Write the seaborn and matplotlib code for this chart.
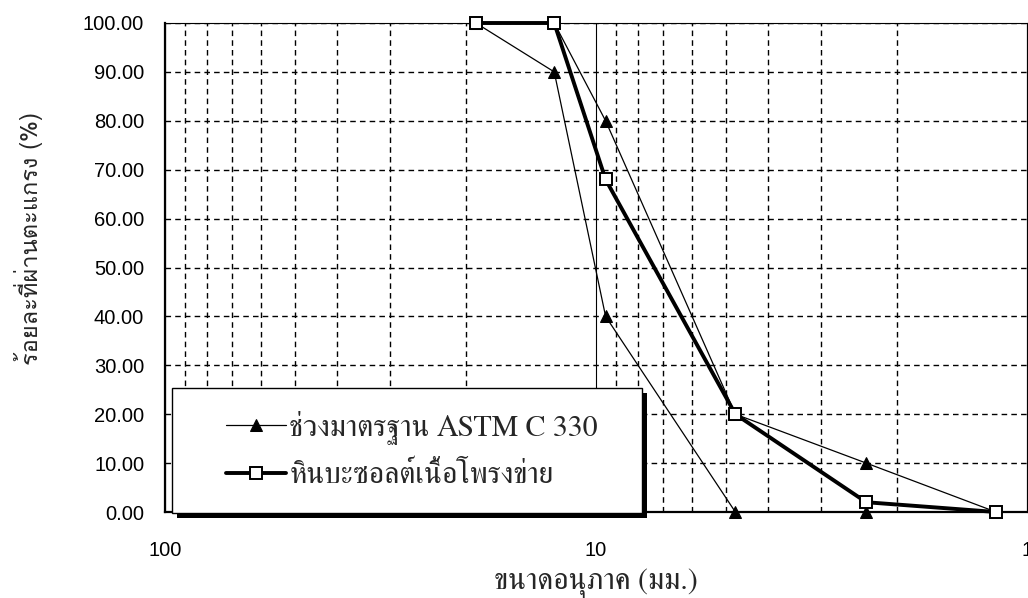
import numpy as np
import pandas as pd
import matplotlib
matplotlib.use("Agg")
import matplotlib.pyplot as plt
import matplotlib.patches as mpatches
import matplotlib.patheffects as pe
from matplotlib import font_manager
from matplotlib.ticker import FixedLocator, NullFormatter, FixedFormatter
import seaborn as sns

# ---------------- data ----------------
astm_size = [19, 12.5, 9.5, 4.75, 2.36, 1.18, 2.36, 4.75, 9.5, 12.5]
astm_pass = [100, 90, 40, 0, 0, 0, 10, 20, 80, 100]
basalt_size = [19, 12.5, 9.5, 4.75, 2.36, 1.18]
basalt_pass = [100, 100, 68, 20, 2, 0]
y_ticks = [0, 10, 20, 30, 40, 50, 60, 70, 80, 90, 100]
x_major = [100, 10, 1]
x_labels = ["100", "10", "1"]
label_astm = "ช่วงมาตรฐาน ASTM C 330"
label_basalt = "หินบะซอลต์เนื้อโพรงข่าย"
xlabel = "ขนาดอนุภาค (มม.)"
ylabel = "ร้อยละที่ผ่านตะแกรง (%)"

# ---------------- style ----------------
sns.set_style("white")


def find_thai_fonts():
    names = []
    try:
        from fontTools.ttLib import TTFont
    except Exception:
        return names
    for f in font_manager.fontManager.ttflist:
        try:
            tt = TTFont(f.fname, fontNumber=0, lazy=True)
            cmap = tt.getBestCmap()
            if cmap and 0x0E01 in cmap and 0x0E2A in cmap:
                if f.name not in names:
                    names.append(f.name)
        except Exception:
            pass
    return names


thai = find_thai_fonts()
serif_pref = [n for n in thai if any(k in n for k in ("Serif", "Norasi", "Kinnari", "Angsana", "Tlwg Typo", "Laksaman"))]
sans_pref = [n for n in thai if n not in serif_pref]
thai_serif = (serif_pref + thai)[:1]
thai_sans = (sans_pref + thai)[:1]
plt.rcParams["font.family"] = ["Liberation Sans"] + thai_sans + ["DejaVu Sans"]
plt.rcParams["axes.unicode_minus"] = False

fig = plt.figure(figsize=(10.28, 5.98), dpi=100)
ax = fig.add_axes([165 / 1028, 1 - 512 / 598, 862 / 1028, (512 - 23) / 598])

df_astm = pd.DataFrame({"size": astm_size, "pass": astm_pass})
df_bas = pd.DataFrame({"size": basalt_size, "pass": basalt_pass})

sns.lineplot(data=df_astm, x="size", y="pass", sort=False, estimator=None, ax=ax,
             color="black", linewidth=0.9, marker="^", markersize=9,
             markerfacecolor="black", markeredgecolor="black", zorder=6,
             clip_on=False, label=label_astm)
sns.lineplot(data=df_bas, x="size", y="pass", sort=False, estimator=None, ax=ax,
             color="black", linewidth=2.8, marker="s", markersize=8,
             markerfacecolor="white", markeredgecolor="black", markeredgewidth=1.4,
             zorder=7, clip_on=False, label=label_basalt)

ax.set_xscale("log")
ax.set_xlim(100, 1)
ax.set_ylim(0, 100)

ax.xaxis.set_major_locator(FixedLocator(x_major))
ax.xaxis.set_major_formatter(FixedFormatter(x_labels))
minor = [m * d for d in (1, 10) for m in range(2, 10)]
ax.xaxis.set_minor_locator(FixedLocator(minor))
ax.xaxis.set_minor_formatter(NullFormatter())
ax.set_yticks(y_ticks)
ax.set_yticklabels([f"{v:.2f}" for v in y_ticks])

ax.tick_params(axis="both", which="major", direction="out", length=5, width=1,
               color="black", labelsize=14.5, labelcolor="black", pad=10)
ax.tick_params(axis="x", which="minor", direction="out", length=3, width=0.8, color="black")
ax.tick_params(axis="x", which="major", pad=16)

# grid
ax.grid(False)
ax.yaxis.grid(True, which="major", linestyle=(0, (4, 3)), color="black", linewidth=1.0)
ax.xaxis.grid(True, which="minor", linestyle=(0, (4, 3)), color="black", linewidth=1.0)
ax.xaxis.grid(True, which="major", linestyle="-", color="black", linewidth=0.8)
ax.set_axisbelow(True)

for s in ("top", "right"):
    ax.spines[s].set_linewidth(0.8)
    ax.spines[s].set_color("black")
for s in ("left", "bottom"):
    ax.spines[s].set_linewidth(1.6)
    ax.spines[s].set_color("black")

ax.set_xlabel(xlabel, fontsize=21.5, family=thai_serif + ["DejaVu Sans"])
ax.set_ylabel(ylabel, fontsize=17, family=thai_sans + ["DejaVu Sans"])
ax.yaxis.set_label_coords(-0.142, 0.56)
ax.xaxis.set_label_coords(0.5, -0.115)
ax.xaxis.label.set_va("top")

# legend frame with shadow
box = mpatches.Rectangle((0.008, -0.002), 0.545, 0.256, transform=ax.transAxes,
                         facecolor="white", edgecolor="black", linewidth=1.0,
                         zorder=8, clip_on=False)
box.set_path_effects([pe.SimplePatchShadow(offset=(3.5, -3.5), shadow_rgbFace="black", alpha=1.0),
                      pe.Normal()])
ax.add_patch(box)

handles, labels = ax.get_legend_handles_labels()
leg = ax.legend(handles, labels, loc="center left", bbox_to_anchor=(0.054, 0.126),
                frameon=False, handlelength=2.0, handletextpad=0.1,
                labelspacing=0.58, borderpad=0,
                prop={"family": thai_serif + ["DejaVu Sans"], "size": 21.5})
leg.set_zorder(9)

fig.savefig("out.png", dpi=100)
